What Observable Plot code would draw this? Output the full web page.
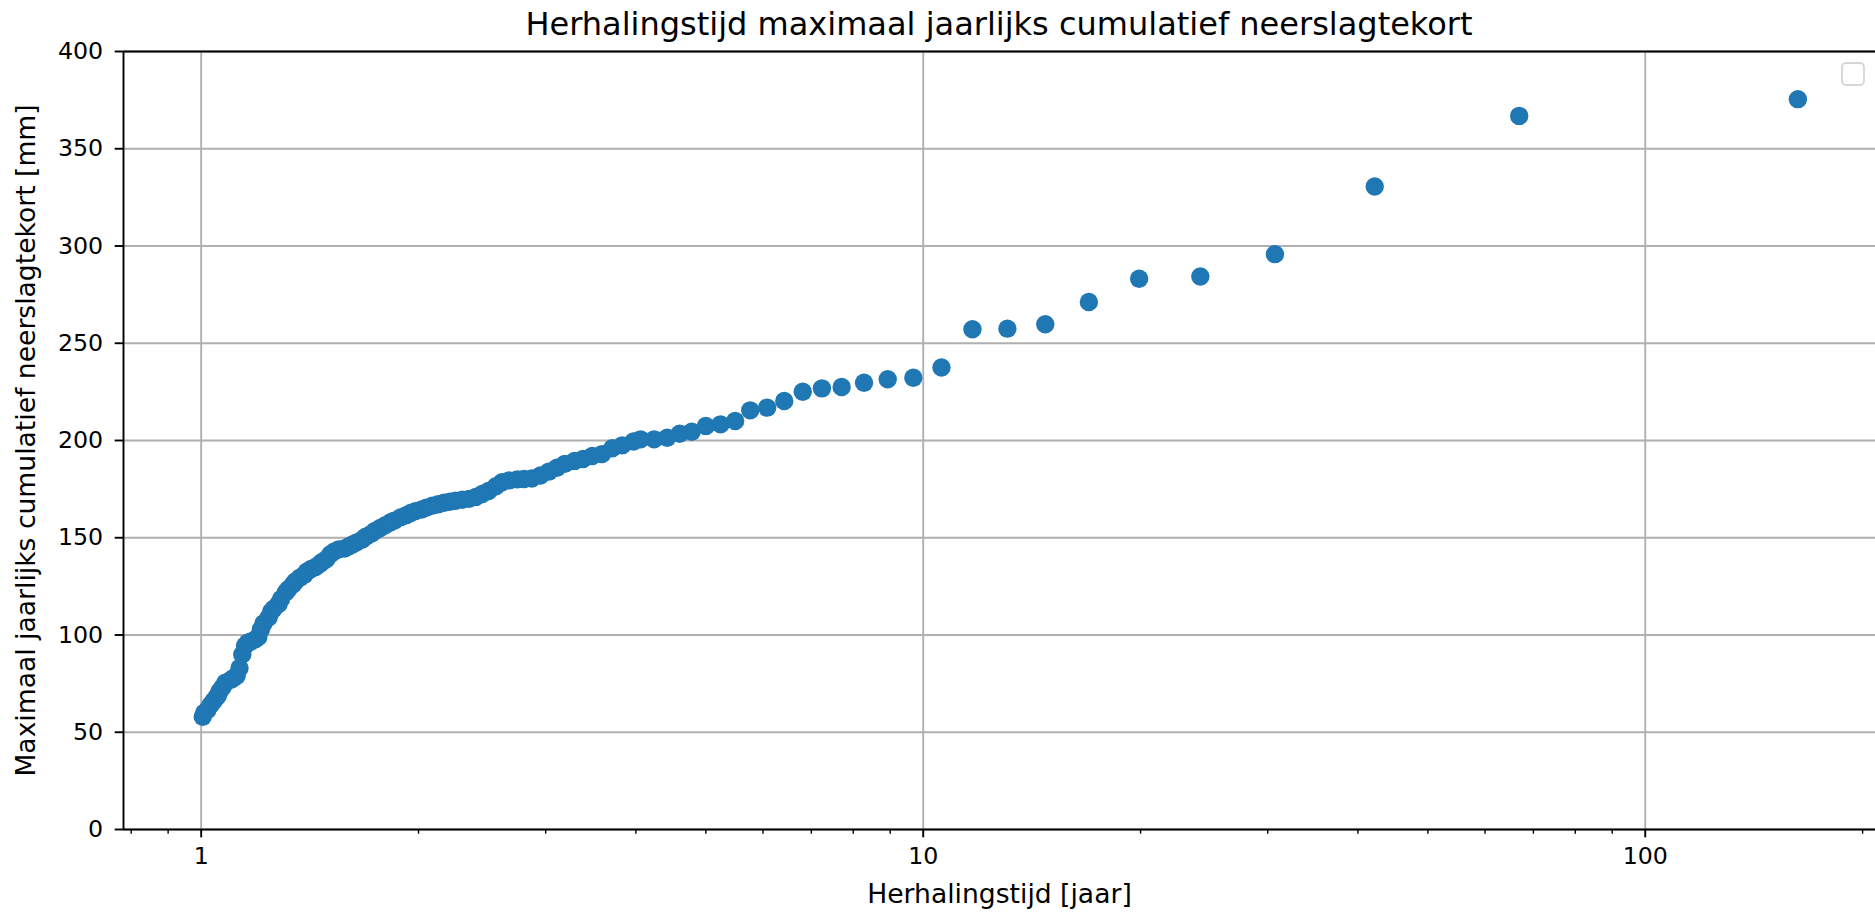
<!DOCTYPE html>
<html>
<head>
<meta charset="utf-8">
<script src="https://cdn.jsdelivr.net/npm/d3@7"></script>
<script src="https://cdn.jsdelivr.net/npm/@observablehq/plot@0.6"></script>
<style>
  html, body { margin: 0; padding: 0; background: #fff; }
  #title { width: 1875px; box-sizing: border-box; padding-left: 123px; height: 44px; padding-top: 4px;
           line-height: 40px; text-align: center; font-family: "DejaVu Sans", sans-serif; font-size: 32px; color: #000; white-space: nowrap; }
</style>
</head>
<body>
<div id="title">Herhalingstijd maximaal jaarlijks cumulatief neerslagtekort</div>
<div id="chart"></div>
<script>
// Return period (years) and maximal annual cumulative precipitation deficit (mm)
const returnPeriod = [
  1.005, 1.01, 1.02, 1.03, 1.04, 1.05, 1.055, 1.06, 1.07, 1.08, 1.10, 1.11, 1.12, 1.13, 1.14, 1.15, 1.16, 1.17, 1.19, 1.20,
  1.21, 1.22, 1.24, 1.25, 1.26, 1.28, 1.29, 1.31, 1.32, 1.34, 1.35, 1.37, 1.39, 1.40, 1.42, 1.44, 1.46, 1.47, 1.49, 1.51,
  1.53, 1.55, 1.58, 1.60, 1.62, 1.64, 1.67, 1.69, 1.72, 1.74, 1.77, 1.80, 1.83, 1.85, 1.89, 1.92, 1.95, 1.98, 2.02, 2.05,
  2.09, 2.13, 2.17, 2.21, 2.25, 2.30, 2.35, 2.40, 2.45, 2.50, 2.56, 2.61, 2.67, 2.74, 2.80, 2.87, 2.95, 3.03, 3.11, 3.19,
  3.29, 3.38, 3.48, 3.59, 3.71, 3.83, 3.97, 4.06, 4.24, 4.42, 4.60, 4.78, 5.00, 5.24, 5.49, 5.76, 6.08, 6.42, 6.81, 7.24,
  7.71, 8.28, 8.93, 9.69, 10.60, 11.70, 13.08, 14.76, 16.96, 19.91, 24.2, 30.7, 42.2, 66.9, 162.7
];
const deficit = [
  58, 60, 61.5, 64, 66, 68, 69, 71, 73, 75.5, 77, 78, 79, 83, 90, 94.5, 96, 96.5, 98, 99,
  103, 106, 109, 112, 113.5, 116, 118.5, 122, 123.5, 126, 127.5, 129.5, 131, 132.5, 134, 135, 136.5, 137.5, 139, 141.5,
  143, 144, 144.5, 145.5, 146.5, 147.5, 149, 150.5, 152, 153.5, 155, 156.5, 158, 158.8, 160.5, 161.5, 162.7, 163.7, 164.5, 165.4,
  166.5, 167.2, 168, 168.5, 169, 169.5, 170, 171, 172.5, 174, 176.5, 178.5, 179.5, 180, 180.2, 180.5, 182, 184, 186, 188,
  189.5, 190.5, 192, 193, 196, 197.5, 199.5, 200.6, 200.6, 201.4, 203.5, 204.5, 207.5, 208.3, 210.0, 215.5, 216.9, 220.3, 225.1, 226.8,
  227.5, 229.7, 231.5, 232.3, 237.5, 257.2, 257.5, 259.8, 271.2, 283.2, 284.3, 295.8, 330.6, 366.9, 375.5
];
const xMajorTicks = [1, 10, 100];
const xMinorTicks = [0.8, 0.9, 2, 3, 4, 5, 6, 7, 8, 9, 20, 30, 40, 50, 60, 70, 80, 90, 200];
const yTicks = [0, 50, 100, 150, 200, 250, 300, 350, 400];
const xLabel = "Herhalingstijd [jaar]";
const yLabel = "Maximaal jaarlijks cumulatief neerslagtekort [mm]";

const data = returnPeriod.map((t, i) => ({t, d: deficit[i]}));
const xDomain = [0.7806, 208.4];

const chart = Plot.plot({
  width: 1875,
  height: 868,
  marginLeft: 123,
  marginRight: 0,
  marginTop: 7,
  marginBottom: 83,
  style: {fontFamily: "DejaVu Sans, sans-serif", fontSize: "23.7px", color: "#000", background: "#fff", overflow: "visible"},
  x: {type: "log", domain: xDomain, label: null},
  y: {domain: [0, 400], label: null},
  marks: [
    Plot.gridX(xMajorTicks, {stroke: "#b0b0b0", strokeOpacity: 1, strokeWidth: 1.9}),
    Plot.gridY(yTicks, {stroke: "#b0b0b0", strokeOpacity: 1, strokeWidth: 1.9}),
    Plot.dot(data, {x: "t", y: "d", r: 9.2, fill: "#1f77b4", stroke: "none"}),
    Plot.ruleY([0], {stroke: "#000", strokeWidth: 1.9}),
    Plot.ruleY([400], {stroke: "#000", strokeWidth: 1.9}),
    Plot.ruleX([xDomain[0]], {stroke: "#000", strokeWidth: 1.9}),
    Plot.axisX(xMinorTicks, {tickSize: 4.7, strokeWidth: 1.4, tickFormat: () => "", label: null}),
    Plot.axisX(xMajorTicks, {tickSize: 8.3, strokeWidth: 1.9, tickPadding: 9, tickFormat: d => String(d), label: null, fontSize: 23.7}),
    Plot.axisY(yTicks, {tickSize: 8.3, strokeWidth: 1.9, tickPadding: 12, tickFormat: d => String(d), label: null, fontSize: 23.7}),
    Plot.text([xLabel], {frameAnchor: "bottom", dy: 65, text: d => d, fontSize: 26.6, fill: "#000", textAnchor: "middle", lineAnchor: "middle"}),
    Plot.text([yLabel], {frameAnchor: "left", dx: -97, rotate: -90, text: d => d, fontSize: 26.6, fill: "#000", textAnchor: "middle", lineAnchor: "middle"})
  ]
});
document.getElementById("chart").appendChild(chart);

// empty legend box in the top-right corner
d3.select(chart).append("rect")
  .attr("x", 1842).attr("y", 19).attr("width", 22).attr("height", 22)
  .attr("rx", 4).attr("fill", "#fff").attr("stroke", "#d6d6d6").attr("stroke-width", 1.8);
</script>
</body>
</html>
